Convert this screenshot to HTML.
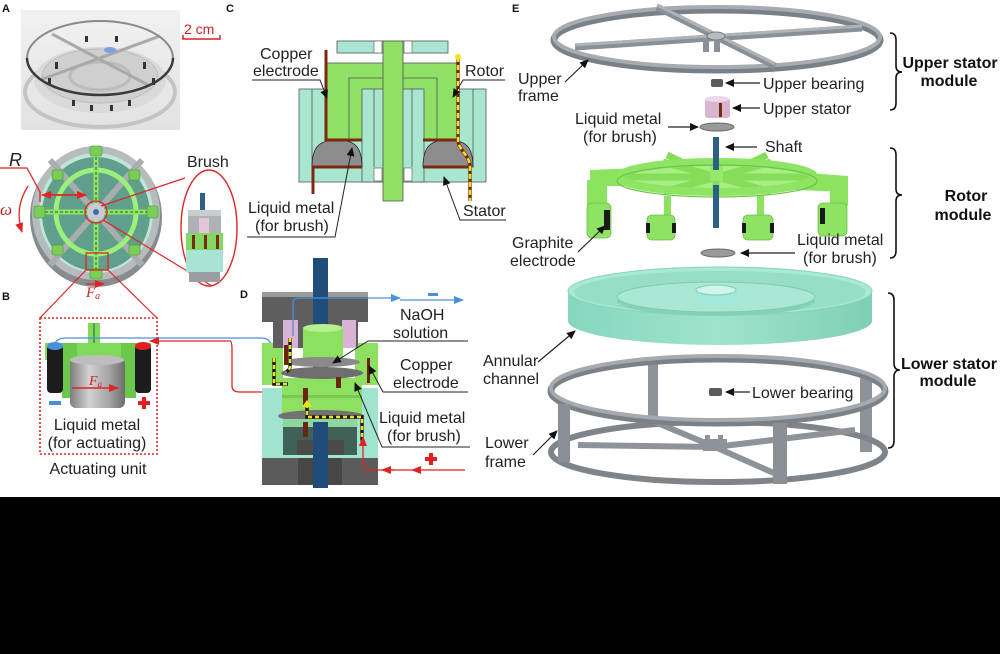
<!DOCTYPE html>
<html><head><meta charset="utf-8">
<style>
html,body{margin:0;padding:0;background:#fff;}
svg{display:block;}
text{font-family:"Liberation Sans",Arial,sans-serif;font-size:16px;fill:#222;}
.b{font-weight:bold;fill:#111;}
.lbl{font-weight:bold;font-size:11px;fill:#111;}
</style></head><body>
<svg width="1000" height="654" viewBox="0 0 1000 654" xmlns="http://www.w3.org/2000/svg">
<defs>
 <marker id="ak" markerWidth="9" markerHeight="8" refX="8" refY="4" orient="auto" markerUnits="userSpaceOnUse"><path d="M0,0 L9,4 L0,8 Z" fill="#111"/></marker>
 <marker id="ar" markerWidth="10" markerHeight="8" refX="9" refY="4" orient="auto" markerUnits="userSpaceOnUse"><path d="M0,0 L10,4 L0,8 Z" fill="#e02424"/></marker>
 <marker id="ab" markerWidth="10" markerHeight="8" refX="9" refY="4" orient="auto" markerUnits="userSpaceOnUse"><path d="M0,0 L10,4 L0,8 Z" fill="#4a90d9"/></marker>
 <linearGradient id="gcyl" x1="0" x2="1" y1="0" y2="0">
  <stop offset="0" stop-color="#7d7d7d"/><stop offset="0.35" stop-color="#d2d2d2"/><stop offset="0.7" stop-color="#a6a6a6"/><stop offset="1" stop-color="#6d6d6d"/>
 </linearGradient>
 <linearGradient id="gteal" x1="0" x2="1" y1="0" y2="0">
  <stop offset="0" stop-color="#86d6bd"/><stop offset="0.5" stop-color="#9fe3cd"/><stop offset="1" stop-color="#7fcfb5"/>
 </linearGradient>
 <linearGradient id="gphoto" x1="0" x2="0" y1="0" y2="1">
  <stop offset="0" stop-color="#f1f1f1"/><stop offset="1" stop-color="#e2e2e2"/>
 </linearGradient>
 <linearGradient id="ggr" x1="0" x2="1" y1="0" y2="0">
  <stop offset="0" stop-color="#7fd35a"/><stop offset="0.4" stop-color="#a2ee7e"/><stop offset="1" stop-color="#78cc55"/>
 </linearGradient>
</defs>
<rect width="1000" height="654" fill="#fff"/>

<!-- ================= PANEL A ================= -->
<text x="2" y="12" class="lbl">A</text>
<rect x="21" y="10" width="159" height="120" fill="url(#gphoto)"/>
<ellipse cx="100" cy="92" rx="75" ry="35" fill="none" stroke="#c4c4c4" stroke-width="4"/>
<ellipse cx="100" cy="80" rx="66" ry="33" fill="#dadada"/>
<ellipse cx="100" cy="76" rx="58" ry="27" fill="#cfcfcf" stroke="#bdbdbd"/>
<ellipse cx="100" cy="76" rx="30" ry="14" fill="none" stroke="#bbb" stroke-width="3"/>
<g stroke="#a9a9a9" stroke-width="3">
 <line x1="52" y1="34" x2="150" y2="86"/>
 <line x1="40" y1="80" x2="160" y2="36"/>
</g>
<g fill="#333">
 <rect x="55" y="62" width="3" height="7"/><rect x="143" y="62" width="3" height="7"/>
 <rect x="72" y="100" width="3" height="6"/><rect x="90" y="105" width="3" height="6"/>
 <rect x="110" y="105" width="3" height="6"/><rect x="128" y="100" width="3" height="6"/>
 <rect x="48" y="78" width="3" height="7"/><rect x="152" y="78" width="3" height="7"/>
 <rect x="85" y="36" width="3" height="6"/><rect x="115" y="36" width="3" height="6"/>
</g>
<ellipse cx="110" cy="50" rx="6" ry="3" fill="#7aa0e0"/>
<ellipse cx="100" cy="58" rx="73" ry="37" fill="none" stroke="#8a8a8a" stroke-width="2"/>
<path d="M27 58 A73 37 0 0 0 173 58" fill="none" stroke="#3a3a3a" stroke-width="2.5"/>
<text x="184" y="34" style="font-size:14px;fill:#d42020">2 cm</text>
<path d="M183 35 V39 H220 V35" fill="none" stroke="#d42020" stroke-width="1.5"/>

<!-- device top view -->
<ellipse cx="96" cy="217" rx="66" ry="70" fill="#868c90"/>
<ellipse cx="96" cy="213" rx="64" ry="67" fill="#b6bbbe"/>
<ellipse cx="96" cy="213" rx="57" ry="60" fill="#bfe5dd"/>
<ellipse cx="96" cy="214" rx="54" ry="57" fill="#5f9f8b"/>
<g stroke="#a8adb0" stroke-width="6">
 <line x1="50" y1="160" x2="142" y2="265"/>
 <line x1="142" y1="160" x2="50" y2="265"/>
</g>
<ellipse cx="96" cy="212" rx="40" ry="42" fill="none" stroke="#9cf07a" stroke-width="5"/>
<g stroke="#8ee565" stroke-width="5">
 <line x1="38" y1="212" x2="154" y2="212"/>
 <line x1="96" y1="150" x2="96" y2="276"/>
</g>
<g stroke="#2e5a2e" stroke-width="1" stroke-dasharray="3 2">
 <line x1="40" y1="212" x2="152" y2="212"/>
 <line x1="96" y1="152" x2="96" y2="274"/>
</g>
<g fill="#79cf55" stroke="#4d8a3a" stroke-width="0.6">
 <rect x="34" y="206" width="11" height="12" rx="2"/><rect x="147" y="206" width="11" height="12" rx="2"/>
 <rect x="90" y="146" width="12" height="10" rx="2"/><rect x="90" y="269" width="12" height="10" rx="2"/>
 <rect x="52" y="170" width="11" height="10" rx="2"/><rect x="129" y="170" width="11" height="10" rx="2"/>
 <rect x="52" y="245" width="11" height="10" rx="2"/><rect x="129" y="245" width="11" height="10" rx="2"/>
</g>
<circle cx="96" cy="212" r="9" fill="#c8ccd0"/>
<circle cx="96" cy="212" r="3" fill="#3d6ea8"/>
<circle cx="96" cy="212" r="11" fill="none" stroke="#e02424" stroke-width="1.3"/>
<rect x="86" y="253" width="22" height="17" fill="none" stroke="#e02424" stroke-width="1.3"/>

<!-- R / omega annotations -->
<text x="9" y="166" style="font-style:italic;font-size:18px;fill:#222">R</text>
<path d="M0 168 H27 L40 192 V202" fill="none" stroke="#e02424" stroke-width="1.3"/>
<line x1="50" y1="195" x2="86" y2="195" stroke="#e02424" stroke-width="1.5" marker-end="url(#ar)"/>
<line x1="86" y1="195" x2="42" y2="195" stroke="#e02424" stroke-width="1.5" marker-end="url(#ar)"/>
<text x="0" y="215" style="font-family:'Liberation Serif',serif;font-style:italic;font-size:17px;fill:#c02020">ω</text>
<path d="M28 186 Q14 208 22 232" fill="none" stroke="#e02424" stroke-width="1.3" marker-end="url(#ar)"/>

<!-- brush callout -->
<text x="187" y="167">Brush</text>
<ellipse cx="209" cy="228" rx="28" ry="58" fill="none" stroke="#e02424" stroke-width="1.4"/>
<line x1="101" y1="206" x2="185" y2="178" stroke="#e02424" stroke-width="1.2"/>
<line x1="103" y1="220" x2="212" y2="286" stroke="#e02424" stroke-width="1.2"/>
<rect x="200" y="193" width="5" height="22" fill="#2f5e8c"/>
<rect x="188" y="210" width="33" height="25" rx="2" fill="#aeb2b6"/>
<rect x="188" y="210" width="33" height="6" fill="#c9cdd0"/>
<rect x="199" y="218" width="10" height="15" fill="#e3c7d8"/>
<rect x="186" y="233" width="37" height="17" fill="#82d862"/>
<g fill="#7a2a10"><rect x="192" y="235" width="3" height="14"/><rect x="204" y="235" width="3" height="14"/><rect x="216" y="235" width="3" height="14"/></g>
<rect x="186" y="250" width="37" height="22" fill="#a8e3d5"/>
<rect x="189" y="272" width="31" height="10" fill="#9a9ea2"/>

<!-- F_a -->
<text x="86" y="297" style="font-family:'Liberation Serif',serif;font-style:italic;font-size:15px;fill:#d42020">F<tspan style="font-size:10px" dy="2">a</tspan></text>
<line x1="86" y1="284" x2="104" y2="284" stroke="#e02424" stroke-width="1.2" marker-end="url(#ar)"/>

<!-- ================= PANEL B ================= -->
<text x="2" y="300" class="lbl">B</text>
<line x1="86" y1="270" x2="40" y2="318" stroke="#e02424" stroke-width="1.2"/>
<line x1="108" y1="270" x2="157" y2="318" stroke="#e02424" stroke-width="1.2"/>
<rect x="40" y="318" width="117" height="136" fill="none" stroke="#e02424" stroke-width="1.6" stroke-dasharray="2 2"/>
<rect x="88" y="323" width="12" height="25" fill="#7fdc5a"/>
<line x1="94" y1="323" x2="94" y2="348" stroke="#234" stroke-width="0.8"/>
<rect x="45" y="343" width="106" height="17" fill="#7fdc5a"/>
<rect x="62" y="343" width="15" height="55" fill="#6cc84c"/>
<rect x="121" y="343" width="15" height="55" fill="#6cc84c"/>
<rect x="47" y="345" width="16" height="48" rx="4" fill="#1c1c1c"/>
<rect x="135" y="345" width="16" height="48" rx="4" fill="#1c1c1c"/>
<ellipse cx="55" cy="346" rx="8" ry="4" fill="#4a90d9"/>
<ellipse cx="143" cy="346" rx="8" ry="4" fill="#e02020"/>
<rect x="70" y="358" width="55" height="50" rx="6" fill="url(#gcyl)"/>
<ellipse cx="97" cy="360" rx="27" ry="5" fill="#bdbdbd"/>
<line x1="72" y1="388" x2="118" y2="388" stroke="#e02424" stroke-width="1.5" marker-end="url(#ar)"/>
<text x="89" y="385" style="font-family:'Liberation Serif',serif;font-style:italic;font-size:14px;fill:#d42020">F<tspan style="font-size:9px" dy="2">a</tspan></text>
<rect x="49" y="401" width="12" height="4" fill="#4a90d9"/>
<path d="M142 397 h4 v4 h4 v4 h-4 v4 h-4 v-4 h-4 v-4 h4 Z" fill="#e02020"/>
<text x="97" y="430" text-anchor="middle">Liquid metal</text>
<text x="97" y="448" text-anchor="middle">(for actuating)</text>
<text x="98" y="474" text-anchor="middle">Actuating unit</text>

<!-- wires from B to D -->
<path d="M55 343 Q58 338 66 338 H262 Q272 338 273 352" fill="none" stroke="#4a90d9" stroke-width="1.3" marker-end="url(#ab)"/>
<path d="M230 341 H150" fill="none" stroke="#e02424" stroke-width="1.3" marker-end="url(#ar)"/>
<path d="M230 341 Q232 341 232 350 V386 Q232 392 240 392 H305 V400" fill="none" stroke="#e02424" stroke-width="1.3"/>

<!-- ================= PANEL C ================= -->
<text x="226" y="12" class="lbl">C</text>
<rect x="299" y="89" width="187" height="93" fill="#a9e6d0" stroke="#555" stroke-width="0.8"/>
<line x1="312" y1="89" x2="312" y2="167" stroke="#555" stroke-width="0.8"/>
<line x1="473" y1="89" x2="473" y2="167" stroke="#555" stroke-width="0.8"/>
<rect x="327" y="63" width="130" height="77" fill="#8fe065" stroke="#555" stroke-width="0.8"/>
<path d="M349 140 V78 H437 V140" fill="none" stroke="#555" stroke-width="0.8"/>
<rect x="362" y="89" width="62" height="93" fill="#a9e6d0" stroke="#555" stroke-width="0.8"/>
<line x1="374" y1="89" x2="374" y2="167" stroke="#555" stroke-width="0.8"/>
<line x1="412" y1="89" x2="412" y2="167" stroke="#555" stroke-width="0.8"/>
<rect x="337" y="41" width="111" height="12" fill="#a9e6d0" stroke="#555" stroke-width="0.8"/>
<rect x="383" y="41" width="20" height="160" fill="#8fe065" stroke="#555" stroke-width="0.8"/>
<g fill="#fff" stroke="#555" stroke-width="0.6">
 <rect x="374" y="41" width="8" height="12"/><rect x="404" y="41" width="8" height="12"/>
 <rect x="374" y="168" width="8" height="13"/><rect x="404" y="168" width="8" height="13"/>
</g>
<path d="M312 167 C312 146 320 140 337 140 C354 140 362 146 362 167 Z" fill="#8d8d8d" stroke="#222" stroke-width="0.8"/>
<path d="M423 167 C423 146 431 140 448 140 C465 140 473 146 473 167 Z" fill="#8d8d8d" stroke="#222" stroke-width="0.8"/>
<g fill="none" stroke="#7a2a10" stroke-width="3">
 <path d="M326 50 V140 H362"/>
 <path d="M362 167 H313 V194"/>
 <path d="M457 140 H423"/>
 <path d="M423 167 H471"/>
</g>
<path d="M458 57 V140 C458 150 470 155 470 167 V201" fill="none" stroke="#6a2a10" stroke-width="3.5"/>
<path d="M458 57 V140 C458 150 470 155 470 167 V201" fill="none" stroke="#f2e020" stroke-width="2.5" stroke-dasharray="5 3"/>
<circle cx="458" cy="57" r="3" fill="#f2e020"/>
<text x="260" y="59">Copper</text>
<text x="253" y="76">electrode</text>
<path d="M252 80 H320 L327 98" fill="none" stroke="#222" stroke-width="1" marker-end="url(#ak)"/>
<text x="465" y="76">Rotor</text>
<path d="M505 80 H463 L453 97" fill="none" stroke="#222" stroke-width="1" marker-end="url(#ak)"/>
<text x="248" y="213">Liquid metal</text>
<text x="255" y="231">(for brush)</text>
<path d="M247 237 H335 L352 148" fill="none" stroke="#222" stroke-width="1" marker-end="url(#ak)"/>
<text x="463" y="216">Stator</text>
<path d="M506 220 H460 L444 177" fill="none" stroke="#222" stroke-width="1" marker-end="url(#ak)"/>

<!-- ================= PANEL D ================= -->
<text x="240" y="298" class="lbl">D</text>
<rect x="313" y="258" width="15" height="230" fill="#1f4c78"/>
<rect x="262" y="452" width="116" height="33" fill="#5b5b5b"/>
<rect x="298" y="458" width="44" height="27" fill="#464646"/>
<path d="M262 388 H378 V458 H262 Z" fill="#a0e3cf"/>
<rect x="283" y="425" width="74" height="30" fill="#3f6158"/>
<rect x="297" y="440" width="16" height="15" fill="#4a4a4a"/><rect x="328" y="440" width="16" height="15" fill="#4a4a4a"/>
<rect x="282" y="378" width="80" height="36" fill="#8ee060"/>
<rect x="282" y="395" width="80" height="3" fill="#7bc954"/>
<ellipse cx="321" cy="416" rx="43" ry="6" fill="#727272"/>
<rect x="283" y="419" width="74" height="8" fill="#8fd69e"/>
<rect x="313" y="422" width="15" height="66" fill="#1f4c78"/>
<rect x="262" y="343" width="21" height="42" fill="#8ee060"/>
<rect x="355" y="343" width="23" height="42" fill="#8ee060"/>
<path d="M262 292 H368 V322 H358 V348 H273 V322 H262 Z" fill="#5e5e5e"/>
<rect x="262" y="292" width="106" height="5" fill="#9a9a9a"/>
<rect x="283" y="320" width="15" height="28" fill="#d9b3d6"/>
<rect x="342" y="320" width="14" height="28" fill="#d9b3d6"/>
<rect x="313" y="258" width="15" height="70" fill="#1f4c78"/>
<rect x="303" y="328" width="40" height="34" fill="#8ee060"/>
<ellipse cx="323" cy="328" rx="20" ry="4" fill="#b5f08e"/>
<ellipse cx="322" cy="362" rx="38" ry="5" fill="#8a8a8a"/>
<ellipse cx="322" cy="373" rx="41" ry="6" fill="#6e6e6e"/>
<g fill="#6a2410">
 <rect x="336" y="377" width="5" height="11"/><rect x="303" y="388" width="5" height="17"/>
 <rect x="303" y="422" width="5" height="15"/><rect x="367" y="358" width="3" height="25"/>
 <rect x="284" y="345" width="4" height="20"/>
</g>
<g fill="none" stroke="#1a1a1a" stroke-width="3.5">
 <path d="M290 338 V366 Q290 370 286 372"/><path d="M274 358 V384 H288"/>
 <path d="M307 404 V417 H362 V442"/>
</g>
<g fill="none" stroke="#f2e020" stroke-width="2.5" stroke-dasharray="4 3">
 <path d="M290 338 V366 Q290 370 286 372"/><path d="M274 358 V384 H288"/>
 <path d="M307 404 V417 H362 V442"/>
</g>
<path d="M302 407 L307 400 L312 407" fill="#f2e020"/>
<path d="M293 336 V302 Q293 298 300 298 H400" fill="none" stroke="#4a90d9" stroke-width="1.3" marker-end="url(#ab)"/>
<line x1="400" y1="300" x2="463" y2="300" stroke="#4a90d9" stroke-width="1.3" marker-end="url(#ab)"/>
<rect x="428" y="293" width="10" height="3" fill="#4a90d9"/>
<line x1="465" y1="470" x2="412" y2="470" stroke="#e02424" stroke-width="1.3" marker-end="url(#ar)"/>
<path d="M412 470 H370 Q363 470 363 462 V437" fill="none" stroke="#e02424" stroke-width="1.3" marker-end="url(#ar)"/>
<line x1="395" y1="470" x2="382" y2="470" stroke="#e02424" stroke-width="1.3" marker-end="url(#ar)"/>
<path d="M429 453 h4 v4 h4 v4 h-4 v4 h-4 v-4 h-4 v-4 h4 Z" fill="#e02020"/>
<text x="400" y="320">NaOH</text>
<text x="393" y="338">solution</text>
<path d="M468 341 H368 L333 363" fill="none" stroke="#222" stroke-width="1" marker-end="url(#ak)"/>
<text x="400" y="370">Copper</text>
<text x="393" y="388">electrode</text>
<path d="M468 392 H383 L369 366" fill="none" stroke="#222" stroke-width="1" marker-end="url(#ak)"/>
<text x="379" y="423">Liquid metal</text>
<text x="387" y="441">(for brush)</text>
<path d="M470 447 H382 L355 383" fill="none" stroke="#222" stroke-width="1" marker-end="url(#ak)"/>

<!-- ================= PANEL E ================= -->
<text x="512" y="12" class="lbl">E</text>
<!-- upper frame -->
<ellipse cx="717" cy="40" rx="163" ry="30" fill="none" stroke="#7a8087" stroke-width="7"/>
<ellipse cx="717" cy="37" rx="163" ry="30" fill="none" stroke="#a7acb2" stroke-width="4"/>
<line x1="575" y1="47" x2="862" y2="28" stroke="#8a9097" stroke-width="7"/>
<line x1="575" y1="45" x2="862" y2="26" stroke="#aeb3b8" stroke-width="3"/>
<line x1="657" y1="7" x2="775" y2="66" stroke="#8a9097" stroke-width="7"/>
<line x1="657" y1="5" x2="775" y2="64" stroke="#aeb3b8" stroke-width="3"/>
<ellipse cx="716" cy="36" rx="9" ry="4" fill="#b8bdc2" stroke="#777"/>
<rect x="703" y="40" width="6" height="12" fill="#8a9097"/><rect x="714" y="40" width="6" height="12" fill="#8a9097"/>
<text x="518" y="84">Upper</text>
<text x="518" y="101">frame</text>
<line x1="565" y1="82" x2="588" y2="60" stroke="#222" stroke-width="1.2" marker-end="url(#ak)"/>
<!-- upper bearing / stator -->
<rect x="711" y="79" width="12" height="8" rx="2" fill="#5c5c5c"/>
<line x1="760" y1="83" x2="726" y2="83" stroke="#222" stroke-width="1.2" marker-end="url(#ak)"/>
<text x="763" y="89">Upper bearing</text>
<rect x="705" y="98" width="25" height="20" rx="3" fill="#d8b6cf"/>
<ellipse cx="717" cy="99" rx="12" ry="3" fill="#efd8e8"/>
<rect x="719" y="103" width="3" height="14" fill="#7a2a10"/>
<line x1="760" y1="108" x2="733" y2="108" stroke="#222" stroke-width="1.2" marker-end="url(#ak)"/>
<text x="763" y="114">Upper stator</text>
<text x="575" y="124">Liquid metal</text>
<text x="583" y="142">(for brush)</text>
<line x1="668" y1="127" x2="698" y2="127" stroke="#222" stroke-width="1.2" marker-end="url(#ak)"/>
<ellipse cx="717" cy="127" rx="17" ry="4" fill="#9a9a9a" stroke="#6a6a6a"/>
<!-- shaft -->
<rect x="713" y="137" width="6" height="91" fill="#2b5f86"/>
<line x1="757" y1="147" x2="726" y2="147" stroke="#222" stroke-width="1.2" marker-end="url(#ak)"/>
<text x="765" y="152">Shaft</text>
<!-- rotor -->
<g fill="#8be35f">
 <polygon points="590,170 640,168 640,186 590,186"/>
 <polygon points="795,172 848,176 848,192 795,190"/>
 <rect x="587" y="180" width="20" height="28"/>
 <rect x="830" y="182" width="18" height="24"/>
 <rect x="664" y="196" width="7" height="22"/>
 <rect x="757" y="196" width="7" height="22"/>
</g>
<ellipse cx="717" cy="177" rx="97" ry="15" fill="#a6ef82"/>
<g stroke="#85dd59" stroke-width="7" stroke-linecap="butt">
 <line x1="620" y1="177" x2="814" y2="177"/>
 <line x1="663" y1="162" x2="771" y2="192"/>
 <line x1="771" y1="162" x2="663" y2="192"/>
 <line x1="716" y1="162" x2="716" y2="192"/>
 <line x1="667" y1="155" x2="690" y2="166"/>
 <line x1="767" y1="155" x2="744" y2="166"/>
</g>
<ellipse cx="717" cy="177" rx="97" ry="15" fill="none" stroke="#8ee563" stroke-width="8"/>
<ellipse cx="717" cy="181" rx="100" ry="16" fill="none" stroke="#6fc24a" stroke-width="1.2"/>
<rect x="710" y="166" width="13" height="15" fill="#95e96a"/>
<rect x="713" y="140" width="6" height="30" fill="#2b5f86"/>
<rect x="713" y="185" width="6" height="43" fill="#2b5f86"/>
<g fill="#8ee362" stroke="#6bbf48" stroke-width="0.8">
 <rect x="587" y="203" width="24" height="35" rx="5"/>
 <rect x="647" y="215" width="28" height="25" rx="5"/>
 <rect x="743" y="215" width="30" height="25" rx="5"/>
 <rect x="818" y="203" width="29" height="33" rx="5"/>
</g>
<g fill="#1a1a1a">
 <rect x="604" y="210" width="6" height="20"/><rect x="646" y="223" width="4" height="10"/><rect x="672" y="223" width="4" height="10"/>
 <rect x="742" y="223" width="4" height="10"/><rect x="770" y="223" width="4" height="10"/><rect x="820" y="208" width="5" height="16"/>
</g>
<text x="512" y="248">Graphite</text>
<text x="510" y="266">electrode</text>
<line x1="578" y1="252" x2="605" y2="226" stroke="#222" stroke-width="1.2" marker-end="url(#ak)"/>
<ellipse cx="718" cy="253" rx="17" ry="4" fill="#9a9a9a" stroke="#6a6a6a"/>
<line x1="795" y1="253" x2="741" y2="253" stroke="#222" stroke-width="1.2" marker-end="url(#ak)"/>
<text x="797" y="245">Liquid metal</text>
<text x="803" y="263">(for brush)</text>
<!-- annular channel -->
<path d="M568 291 V321 A152 24 0 0 0 872 321 V291 Z" fill="url(#gteal)"/>
<ellipse cx="720" cy="291" rx="152" ry="24" fill="#a9e9d5" stroke="#86d3bb"/>
<ellipse cx="720" cy="292" rx="146" ry="21" fill="#97dec6"/>
<ellipse cx="716" cy="301" rx="99" ry="15" fill="#86d2b8"/>
<ellipse cx="716" cy="297" rx="99" ry="15" fill="#a8e8d4" stroke="#7fcab1"/>
<rect x="696" y="290" width="41" height="15" fill="#a2e9da"/>
<ellipse cx="716" cy="290" rx="20" ry="5" fill="#cff5ec" stroke="#7fcab1"/>
<text x="483" y="366">Annular</text>
<text x="483" y="384">channel</text>
<line x1="538" y1="362" x2="575" y2="331" stroke="#222" stroke-width="1.2" marker-end="url(#ak)"/>
<!-- lower frame -->
<g fill="#8d9399">
 <rect x="648" y="358" width="10" height="64"/>
 <rect x="860" y="376" width="12" height="76"/>
</g>
<ellipse cx="718" cy="452" rx="167" ry="30" fill="none" stroke="#7e848a" stroke-width="6"/>
<g stroke="#8d9399" stroke-width="6">
 <line x1="715" y1="447" x2="578" y2="445"/>
 <line x1="715" y1="447" x2="855" y2="430"/>
 <line x1="715" y1="447" x2="655" y2="422"/>
 <line x1="715" y1="447" x2="785" y2="478"/>
</g>
<rect x="703" y="439" width="24" height="12" fill="#8d9399"/>
<rect x="705" y="435" width="5" height="6" fill="#8d9399"/><rect x="718" y="435" width="5" height="6" fill="#8d9399"/>
<ellipse cx="718" cy="391" rx="167" ry="32" fill="none" stroke="#7b8187" stroke-width="7"/>
<ellipse cx="718" cy="388" rx="167" ry="32" fill="none" stroke="#a5aab0" stroke-width="4"/>
<g fill="#8a9096">
 <rect x="558" y="404" width="12" height="58"/>
 <rect x="773" y="423" width="14" height="61"/>
</g>
<rect x="709" y="388" width="13" height="8" rx="2" fill="#5c5c5c"/>
<line x1="750" y1="392" x2="726" y2="392" stroke="#222" stroke-width="1.2" marker-end="url(#ak)"/>
<text x="752" y="398">Lower bearing</text>
<text x="485" y="448">Lower</text>
<text x="485" y="467">frame</text>
<line x1="533" y1="455" x2="557" y2="431" stroke="#222" stroke-width="1.2" marker-end="url(#ak)"/>

<!-- braces -->
<g fill="none" stroke="#111" stroke-width="1.6">
 <path d="M890 33 Q896 33 896 40 V66 Q896 72 902 72 Q896 72 896 78 V103 Q896 110 890 110"/>
 <path d="M890 148 Q896 148 896 155 V189 Q896 195 902 195 Q896 195 896 201 V251 Q896 258 890 258"/>
 <path d="M888 293 Q894 293 894 300 V363 Q894 370 900 370 Q894 370 894 377 V441 Q894 448 888 448"/>
</g>
<text x="950" y="68" text-anchor="middle" class="b">Upper stator</text>
<text x="949" y="86" text-anchor="middle" class="b">module</text>
<text x="966" y="201" text-anchor="middle" class="b">Rotor</text>
<text x="963" y="220" text-anchor="middle" class="b">module</text>
<text x="949" y="369" text-anchor="middle" class="b">Lower stator</text>
<text x="948" y="386" text-anchor="middle" class="b">module</text>

<!-- black band -->
<rect x="0" y="497" width="1000" height="157" fill="#000"/>
</svg>
</body></html>
